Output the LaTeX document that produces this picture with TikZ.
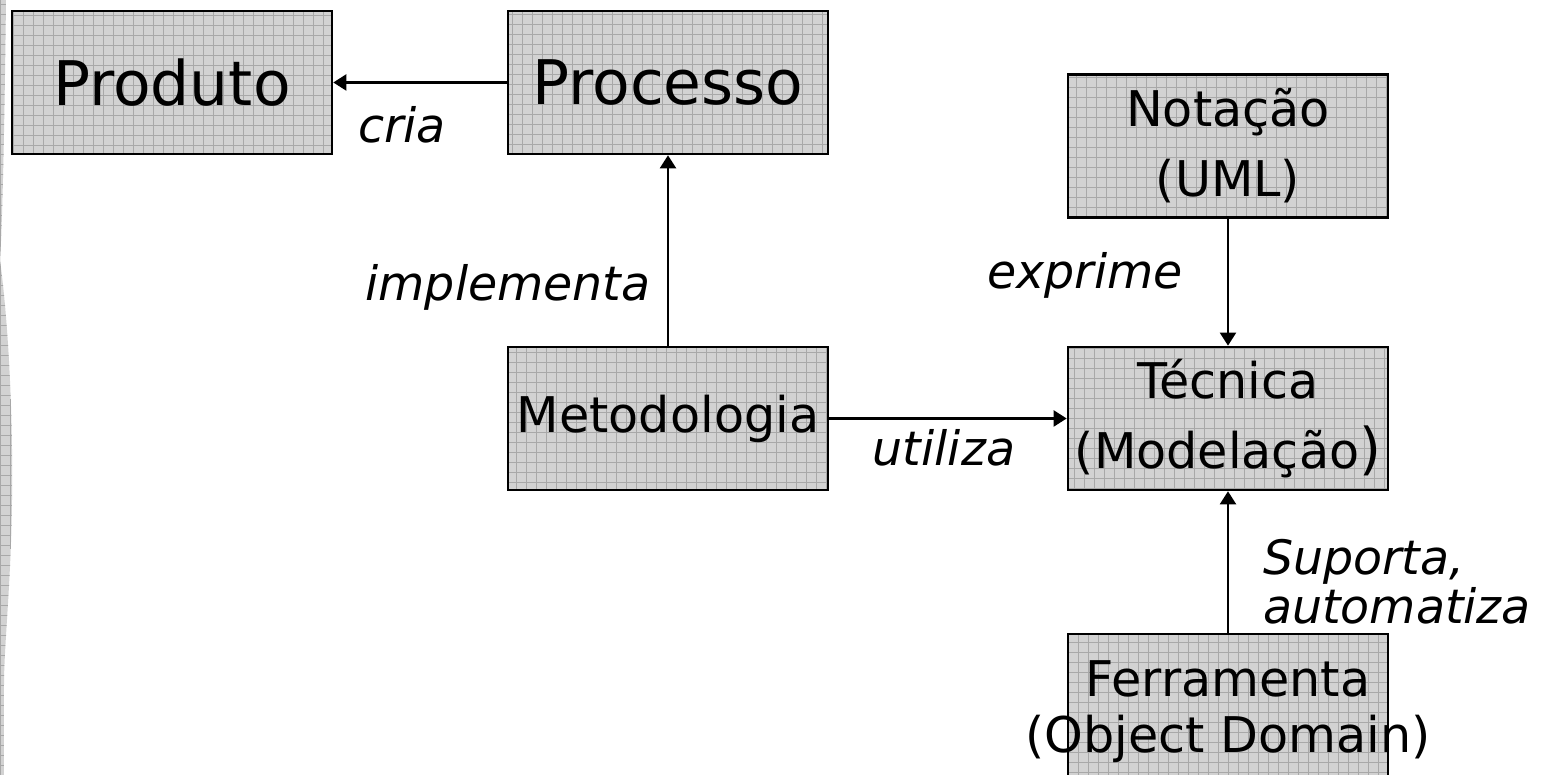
\documentclass[tikz,border=0pt]{standalone}
\usepackage{fontspec}
\setmainfont{DejaVu Sans}
\usepackage{tikz}
\usetikzlibrary{calc,arrows.meta}

\definecolor{boxfill}{HTML}{D2D2D2}
\definecolor{gridline}{HTML}{A8A8A8}

\tikzset{
  gridfill/.style={fill=boxfill,
    path picture={\draw[gridline,line width=0.25pt,step=0.1]
      (path picture bounding box.south west) grid (path picture bounding box.north east);}},
  concept/.style={gridfill,draw=black,line width=0.75pt,minimum width=3.2cm,
    minimum height=1.43cm,inner sep=0pt,align=center,font=\fontsize{14}{20}\selectfont},
  bigconcept/.style={concept,font=\fontsize{17.5}{20}\selectfont},
  rel/.style={font=\fontsize{13.5}{14}\selectfont\itshape,inner sep=0pt},
  link/.style={line width=0.6pt,->,>={Triangle[length=1.3mm,width=1.6mm]}}
}

\begin{document}
\begin{tikzpicture}
\clip (0,0) rectangle (15.49,7.75);
% faixa cinzenta na margem esquerda
\path[gridfill] (0,7.75) -- (0.06,7.75) .. controls (0.05,6.9) and (0.03,5.6) .. (0,5.15)
  .. controls (0.10,4.4) and (0.13,3.4) .. (0.12,2.75)
  .. controls (0.11,1.9) and (0.04,1.3) .. (0.04,0.9) -- (0.04,0) -- (0,0) -- cycle;

\node[bigconcept] (produto) at (1.72,6.925) {Produto};
\node[bigconcept] (processo) at (6.68,6.925) {Processo};
\node[concept] (notacao) at (12.28,6.29) {Nota\c{c}\~ao\\(UML)};
\node[concept] (metodologia) at (6.68,3.565) {Metodologia};
\node[concept] (tecnica) at (12.28,3.565)
  {T\'ecnica\\(Modela\c{c}\~ao{\fontsize{16}{20}\selectfont)}};
\node[concept,minimum height=1.56cm,font=\fontsize{14}{16}\selectfont] (ferramenta) at (12.28,0.63)
  {\makebox[3cm]{Ferramenta}\\\makebox[3cm]{(Object Domain)}};

\draw[link] (processo) -- (produto);
\draw[link] (metodologia) -- (processo);
\draw[link] (metodologia) -- (tecnica);
\draw[link] (notacao) -- (tecnica);
\draw[link] (ferramenta) -- (tecnica);

\node[rel] (cria) at (4.02,6.50) {cria};
\node[rel] (implementa) at (5.08,4.88) {implementa};
\node[rel] (exprime) at (10.85,5.00) {exprime};
\node[rel] (utiliza) at (9.44,3.27) {utiliza};
\node[rel,align=left] (suporta) at (13.97,1.93) {Suporta,\\automatiza};
\end{tikzpicture}
\end{document}
